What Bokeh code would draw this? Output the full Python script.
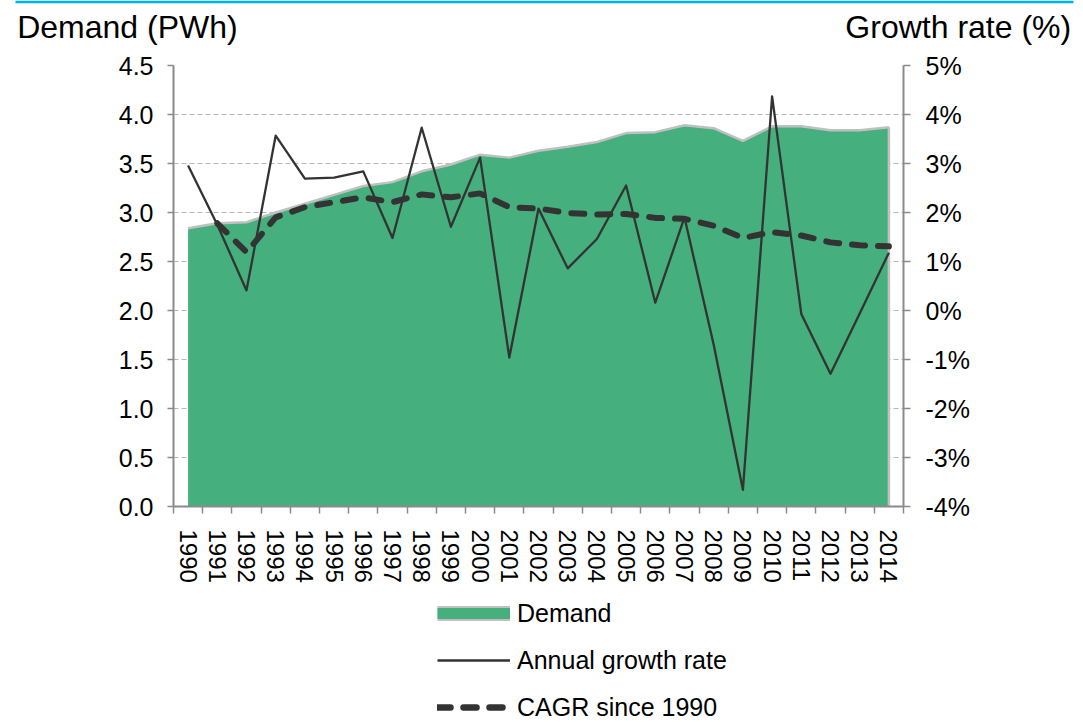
from bokeh.plotting import figure
from bokeh.layouts import column, row
from bokeh.models import (Range1d, LinearAxis, FixedTicker, PrintfTickFormatter,
                          Label, Legend, LegendItem, BoxAnnotation)
from bokeh.embed import file_html
from bokeh.resources import INLINE

# ---------------- data ----------------
years = ["1990", "1991", "1992", "1993", "1994", "1995", "1996", "1997", "1998", "1999",
         "2000", "2001", "2002", "2003", "2004", "2005", "2006", "2007", "2008", "2009",
         "2010", "2011", "2012", "2013", "2014"]
demand_pwh = [2.84, 2.89, 2.90, 3.00, 3.09, 3.18, 3.27, 3.31, 3.42, 3.49,
              3.59, 3.56, 3.63, 3.67, 3.72, 3.81, 3.82, 3.89, 3.86, 3.73,
              3.88, 3.88, 3.84, 3.84, 3.87]
annual_growth = [2.96, 1.75, 0.41, 3.57, 2.69, 2.71, 2.84, 1.48, 3.73, 1.71,
                 3.12, -0.96, 2.08, 0.86, 1.46, 2.55, 0.16, 1.90, -0.70, -3.66,
                 4.37, -0.07, -1.29, -0.06, 1.18]
cagr_since_1990 = [float("nan"), 1.78, 1.19, 1.90, 2.11, 2.21, 2.31, 2.21, 2.37, 2.31,
                   2.39, 2.11, 2.08, 1.99, 1.96, 1.97, 1.89, 1.87, 1.73, 1.48,
                   1.60, 1.53, 1.39, 1.33, 1.31]
left_ticks = [0.0, 0.5, 1.0, 1.5, 2.0, 2.5, 3.0, 3.5, 4.0, 4.5]
right_ticks = [-4, -3, -2, -1, 0, 1, 2, 3, 4, 5]
series_names = ["Demand", "Annual growth rate", "CAGR since 1990"]
left_title = "Demand (PWh)"
right_title = "Growth rate (%)"

# ---------------- style ----------------
FONT = "Liberation Sans"
GREEN = "#46AF7E"
OUTLINE = "#C0C0C0"
DARK = "#333333"
AXIS = "#8A8A8A"
GRID = "#B8B8B8"
BLUE = "#00B0F0"
DASH = "13 13"

W = 1083
TOP_H = 50          # header strip (blue rule + titles)
MAIN_H = 540        # chart with axes
BOT_H = 132         # legend strip
FW, FH = 730, 441
BL = 173
FRAME_TOP = 65 - TOP_H
NAN = float("nan")

idx = list(range(len(years)))


def bare(height):
    f = figure(width=W, height=height, x_range=Range1d(0, W), y_range=Range1d(height, 0),
               x_axis_type=None, y_axis_type=None, output_backend="svg",
               toolbar_location=None, min_border=0)
    f.outline_line_color = None
    f.background_fill_color = "white"
    f.border_fill_color = "white"
    f.grid.visible = False
    return f


# ---------------- header ----------------
p_top = bare(TOP_H)
p_top.add_layout(BoxAnnotation(left=15, right=1073, top=0, bottom=2.7,
                               fill_color=BLUE, fill_alpha=1, line_alpha=0))
p_top.add_layout(Label(x=16.7, y=26, text=left_title, text_font=FONT,
                       text_font_size="32px", text_color="black",
                       text_align="left", text_baseline="alphabetic"))
p_top.add_layout(Label(x=1070.7, y=26, text=right_title, text_font=FONT,
                       text_font_size="32px", text_color="black",
                       text_align="right", text_baseline="alphabetic"))

# ---------------- main chart ----------------
p = figure(frame_width=FW, frame_height=FH,
           min_border_left=BL, min_border_right=W - BL - FW,
           min_border_top=FRAME_TOP, min_border_bottom=MAIN_H - FRAME_TOP - FH,
           x_range=Range1d(-0.5, len(years) - 0.5), y_range=Range1d(0, 4.5),
           output_backend="svg", toolbar_location=None)
p.outline_line_color = None
p.background_fill_color = "white"
p.border_fill_color = "white"
p.extra_y_ranges = {"growth": Range1d(-4, 5)}

p.varea(x=idx, y1=0, y2=demand_pwh, fill_color=GREEN, fill_alpha=1)
p.line(x=idx, y=demand_pwh, line_color=OUTLINE, line_width=2.5)
p.segment(x0=[idx[-1]], y0=[0], x1=[idx[-1]], y1=[demand_pwh[-1]],
          line_color=OUTLINE, line_width=2.5)
p.line(x=idx, y=annual_growth, y_range_name="growth",
       line_color=DARK, line_width=2.3, line_join="round")
p.line(x=idx, y=cagr_since_1990, y_range_name="growth",
       line_color=DARK, line_width=6, line_dash=DASH, line_cap="round")

xax = p.xaxis[0]
xax.ticker = FixedTicker(ticks=idx, minor_ticks=[i - 0.5 for i in range(len(years) + 1)])
xax.major_label_overrides = {i: y for i, y in zip(idx, years)}
xax.major_label_orientation = "vertical"
xax.major_tick_out = 0
xax.major_tick_in = 0
xax.minor_tick_out = 7
xax.minor_tick_in = 0
xax.minor_tick_line_color = AXIS
xax.minor_tick_line_width = 1.5
xax.axis_line_color = AXIS
xax.axis_line_width = 2
xax.major_label_standoff = 16
xax.major_label_text_font = FONT
xax.major_label_text_font_size = "24px"
xax.major_label_text_color = "black"

yax = p.yaxis[0]
yax.ticker = FixedTicker(ticks=left_ticks, minor_ticks=[])
yax.formatter = PrintfTickFormatter(format="%.1f")
yax.major_tick_out = 6
yax.major_tick_in = 0
yax.major_tick_line_color = AXIS
yax.major_tick_line_width = 1.5
yax.axis_line_color = AXIS
yax.axis_line_width = 2
yax.major_label_standoff = 14
yax.major_label_text_font = FONT
yax.major_label_text_font_size = "25px"
yax.major_label_text_color = "black"

rax = LinearAxis(y_range_name="growth",
                 ticker=FixedTicker(ticks=right_ticks, minor_ticks=[]),
                 formatter=PrintfTickFormatter(format="%d%%"))
rax.major_tick_out = 7
rax.major_tick_in = 0
rax.major_tick_line_color = AXIS
rax.major_tick_line_width = 1.5
rax.axis_line_color = AXIS
rax.axis_line_width = 2
rax.major_label_standoff = 15
rax.major_label_text_font = FONT
rax.major_label_text_font_size = "25px"
rax.major_label_text_color = "black"
p.add_layout(rax, "right")

p.xgrid.visible = False
p.ygrid.ticker = FixedTicker(ticks=left_ticks, minor_ticks=[])
p.ygrid.grid_line_color = GRID
p.ygrid.grid_line_dash = "5 3"
p.ygrid.grid_line_width = 1.2

# ---------------- legend strip ----------------
p_bot = bare(BOT_H)
k_border = p_bot.line(x=[NAN], y=[NAN], line_color=OUTLINE, line_width=15)
k_fill = p_bot.line(x=[NAN], y=[NAN], line_color=GREEN, line_width=11)
k_growth = p_bot.line(x=[NAN], y=[NAN], line_color=DARK, line_width=2.3)
k_cagr = p_bot.line(x=[NAN], y=[NAN], line_color=DARK, line_width=6.5,
                    line_dash=DASH, line_cap="round")
legend = Legend(items=[LegendItem(label=series_names[0], renderers=[k_border, k_fill]),
                       LegendItem(label=series_names[1], renderers=[k_growth]),
                       LegendItem(label=series_names[2], renderers=[k_cagr])],
                location=(437, 0), orientation="vertical",
                glyph_width=73, glyph_height=30, label_height=30, spacing=17,
                label_standoff=7, padding=0, margin=0,
                border_line_alpha=0, background_fill_alpha=0,
                label_text_font=FONT, label_text_font_size="25px",
                label_text_color="black")
p_bot.add_layout(legend)

layout = column(row(p_top), row(p), row(p_bot), spacing=0)
open("out.html", "w").write(file_html(layout, INLINE))
